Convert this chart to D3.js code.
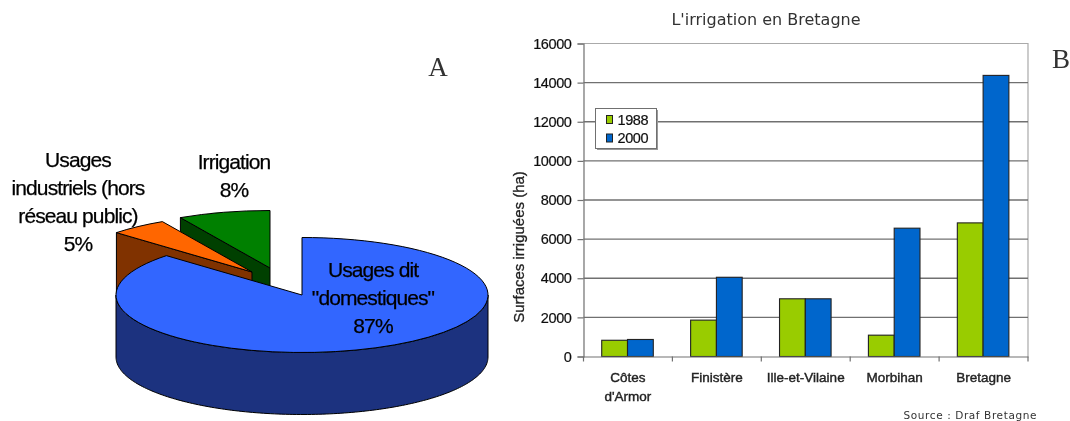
<!DOCTYPE html>
<html>
<head>
<meta charset="utf-8">
<script src="https://cdn.jsdelivr.net/npm/d3@7"></script>
<style>
    html, body { margin: 0; padding: 0; background: #fff; }
    svg { display: block; }
    text { font-family: "Liberation Sans", sans-serif; }
</style>
</head>
<body>
<div id="chart"></div>
<script>
// pie (A)
var pieLabels = ["Usages dit \"domestiques\"", "Usages industriels (hors réseau public)", "Irrigation"];
var pieValues = [87, 5, 8];
var pieTop = ["#3366ff", "#ff6600", "#008000"];
var pieSide = ["#1a337f", "#803300", "#004000"];

// bars (B)
var categories = ["Côtes d'Armor", "Finistère", "Ille-et-Vilaine", "Morbihan", "Bretagne"];
var years = ["1988", "2000"];
var values1988 = [830, 1860, 2950, 1090, 6830];
var values2000 = [870, 4050, 2950, 6560, 14370];
var yTicks = [0, 2000, 4000, 6000, 8000, 10000, 12000, 14000, 16000];

var width = 1070, height = 421;

var svg = d3.select("#chart").append("svg")
    .attr("width", width)
    .attr("height", height);

// the reference is a soft, upscaled image
var defs = svg.append("defs");
defs.append("filter").attr("id", "soft")
    .append("feGaussianBlur").attr("stdDeviation", 0.5);

var root = svg.append("g").attr("filter", "url(#soft)");

drawPie(root);
drawBars(root);

root.append("text").attr("x", 438).attr("y", 76)
    .attr("text-anchor", "middle")
    .style("font-family", "'Liberation Serif', serif")
    .style("font-size", "27px")
    .attr("fill", "#333")
    .text("A");
root.append("text").attr("x", 1061).attr("y", 68)
    .attr("text-anchor", "middle")
    .style("font-family", "'Liberation Serif', serif")
    .style("font-size", "27px")
    .attr("fill", "#333")
    .text("B");

function drawPie(parent) {
    var rx = 186, ry = 57.5, depth = 62;
    var cx = 302, cy = 295;
    // exploded slices are moved by hand, the way the spreadsheet left them
    var offsets = [[0, 0], [-50, -23], [-32, -27]];

    var arcs = d3.pie().sort(null).value(function(d) { return d; })(pieValues);
    var arc = d3.arc().innerRadius(0).outerRadius(rx);

    function pt(o, a, down) {
        return [cx + o[0] + rx * Math.sin(a), cy + o[1] + ry * -Math.cos(a) + (down || 0)];
    }
    var line = d3.line();
    var g = parent.append("g").attr("stroke", "#000").attr("stroke-width", 1).attr("stroke-linejoin", "round");

    function drawTop(i) {
        g.append("path")
            .attr("transform", "translate(" + (cx + offsets[i][0]) + "," + (cy + offsets[i][1]) + ") scale(1," + (ry / rx) + ")")
            .attr("d", arc(arcs[i]))
            .attr("fill", pieTop[i])
            .attr("vector-effect", "non-scaling-stroke");
    }
    // wall along the radius where the slice starts
    function drawWall(i) {
        var o = offsets[i];
        var a = arcs[i].startAngle;
        g.append("path")
            .attr("d", line([pt(o, a), [cx + o[0], cy + o[1]], [cx + o[0], cy + o[1] + depth], pt(o, a, depth)]) + "Z")
            .attr("fill", pieSide[i]);
    }

    // back to front: green, orange, blue
    drawWall(2);
    drawTop(2);
    drawWall(1);
    drawTop(1);

    // outer rim of the blue slice, lower half only
    var rim = d3.range(Math.PI / 2, 3 * Math.PI / 2 + 0.001, 0.02);
    var pts = rim.map(function(a) { return pt(offsets[0], a); })
        .concat(rim.slice().reverse().map(function(a) { return pt(offsets[0], a, depth); }));
    g.append("path").attr("d", line(pts) + "Z").attr("fill", pieSide[0]);
    drawTop(0);

    var labels = parent.append("g")
        .attr("text-anchor", "middle")
        .attr("fill", "#000")
        .attr("stroke", "#000").attr("stroke-width", 0.25)
        .style("font-size", "21px")
        .style("letter-spacing", "-0.9px");
    function label(x, y, lines) {
        lines.forEach(function(t, i) {
            labels.append("text").attr("x", x).attr("y", y + i * 28).text(t);
        });
    }
    label(78, 167, ["Usages", "industriels (hors", "réseau public)", pieValues[1] + "%"]);
    label(234, 169, [pieLabels[2], pieValues[2] + "%"]);
    label(373, 277, ["Usages dit", "\"domestiques\"", pieValues[0] + "%"]);
}

function drawBars(parent) {
    var left = 583.5, right = 1028, top = 43.5, bottom = 356.5;

    var x0 = d3.scaleBand().domain(categories).range([left, right]);
    var x1 = d3.scaleBand().domain(years)
        .range([x0.bandwidth() * 0.205, x0.bandwidth() * 0.785]);
    var y = d3.scaleLinear().domain([0, 16000]).range([bottom, top]);
    var color = d3.scaleOrdinal().domain(years).range(["#99cc00", "#0066cc"]);

    var g = parent.append("g");

    // frame top and right
    g.append("path")
        .attr("d", "M" + left + "," + top + "H" + right + "V" + bottom)
        .attr("fill", "none").attr("stroke", "#aaa").attr("stroke-width", 1.2);

    // grid
    g.selectAll(".grid").data(yTicks.slice(1, -1))
        .enter().append("line")
        .attr("class", "grid")
        .attr("x1", left).attr("x2", right)
        .attr("y1", function(d) { return y(d); })
        .attr("y2", function(d) { return y(d); })
        .attr("stroke", "#707070").attr("stroke-width", 1.3);

    var yAxis = d3.axisLeft(y).tickValues(yTicks).tickFormat(d3.format("d")).tickSize(6).tickPadding(6);
    var yg = g.append("g").attr("transform", "translate(" + left + ",0)").call(yAxis);

    var groups = g.selectAll(".cat").data(categories)
        .enter().append("g")
        .attr("class", "cat")
        .attr("transform", function(d) { return "translate(" + x0(d) + ",0)"; });

    groups.selectAll("rect")
        .data(function(d, i) {
            return [{ key: years[0], value: values1988[i] }, { key: years[1], value: values2000[i] }];
        })
        .enter().append("rect")
        .attr("x", function(d) { return x1(d.key); })
        .attr("width", x1.bandwidth())
        .attr("y", function(d) { return y(d.value); })
        .attr("height", function(d) { return bottom - y(d.value); })
        .attr("fill", function(d) { return color(d.key); })
        .attr("stroke", "#222").attr("stroke-width", 1.1);

    var xAxis = d3.axisBottom(x0).tickSize(0).tickFormat("");
    var xg = g.append("g").attr("transform", "translate(0," + bottom + ")").call(xAxis);
    xg.selectAll(".tick").remove();
    xg.selectAll(".cattick").data(d3.range(categories.length + 1))
        .enter().append("line")
        .attr("x1", function(d) { return left + d * x0.bandwidth(); })
        .attr("x2", function(d) { return left + d * x0.bandwidth(); })
        .attr("y1", 0).attr("y2", 5)
        .attr("stroke", "#707070").attr("stroke-width", 1.2);

    g.selectAll(".domain").attr("stroke", "#707070").attr("stroke-width", 1.2);
    yg.selectAll(".tick line").attr("stroke", "#707070").attr("stroke-width", 1.2);
    yg.selectAll(".tick text")
        .attr("fill", "#111")
        .attr("stroke", "#111").attr("stroke-width", 0.2)
        .style("font-family", "'Liberation Sans', sans-serif")
        .style("font-size", "14.5px")
        .style("letter-spacing", "-0.4px");

    // category labels, Côtes d'Armor wraps on two lines
    var names = g.selectAll(".name").data(categories)
        .enter().append("text")
        .attr("class", "name")
        .attr("text-anchor", "middle")
        .attr("y", 382)
        .attr("fill", "#222")
        .attr("stroke", "#222").attr("stroke-width", 0.4)
        .style("font-size", "13.5px");
    names.each(function(d) {
        var parts = d == "Côtes d'Armor" ? ["Côtes", "d'Armor"] : [d];
        var t = d3.select(this);
        parts.forEach(function(p, i) {
            t.append("tspan")
                .attr("x", x0(d) + x0.bandwidth() / 2)
                .attr("y", 382 + i * 19)
                .text(p);
        });
    });

    g.append("text")
        .attr("transform", "translate(524,247) rotate(-90)")
        .attr("text-anchor", "middle")
        .attr("fill", "#222")
        .attr("stroke", "#222").attr("stroke-width", 0.3)
        .style("font-size", "15px")
        .text("Surfaces irriguées (ha)");

    g.append("text")
        .attr("x", 766).attr("y", 25)
        .attr("text-anchor", "middle")
        .attr("fill", "#333")
        .style("font-family", "'DejaVu Sans', sans-serif")
        .style("font-size", "16px")
        .text("L'irrigation en Bretagne");

    g.append("text")
        .attr("x", 1037).attr("y", 419)
        .attr("text-anchor", "end")
        .attr("fill", "#333")
        .style("font-family", "'DejaVu Sans', sans-serif")
        .style("font-size", "10.5px")
        .style("letter-spacing", "0.6px")
        .text("Source : Draf Bretagne");

    // legend
    var legend = g.append("g").attr("transform", "translate(595.5,108.5)");
    legend.append("rect").attr("x", 1.5).attr("y", 1.5).attr("width", 61).attr("height", 40).attr("fill", "#999");
    legend.append("rect").attr("width", 61).attr("height", 40).attr("fill", "#fff").attr("stroke", "#707070");
    var items = legend.selectAll(".item").data(years)
        .enter().append("g")
        .attr("class", "item")
        .attr("transform", function(d, i) { return "translate(0," + (i * 18.5) + ")"; });
    items.append("rect")
        .attr("x", 11).attr("y", 7).attr("width", 6).attr("height", 8)
        .attr("fill", function(d) { return color(d); })
        .attr("stroke", "#222");
    items.append("text")
        .attr("x", 22).attr("y", 16)
        .attr("fill", "#111")
        .attr("stroke", "#111").attr("stroke-width", 0.2)
        .style("font-size", "14.5px")
        .style("letter-spacing", "-0.4px")
        .text(function(d) { return d; });
}
</script>
</body>
</html>
